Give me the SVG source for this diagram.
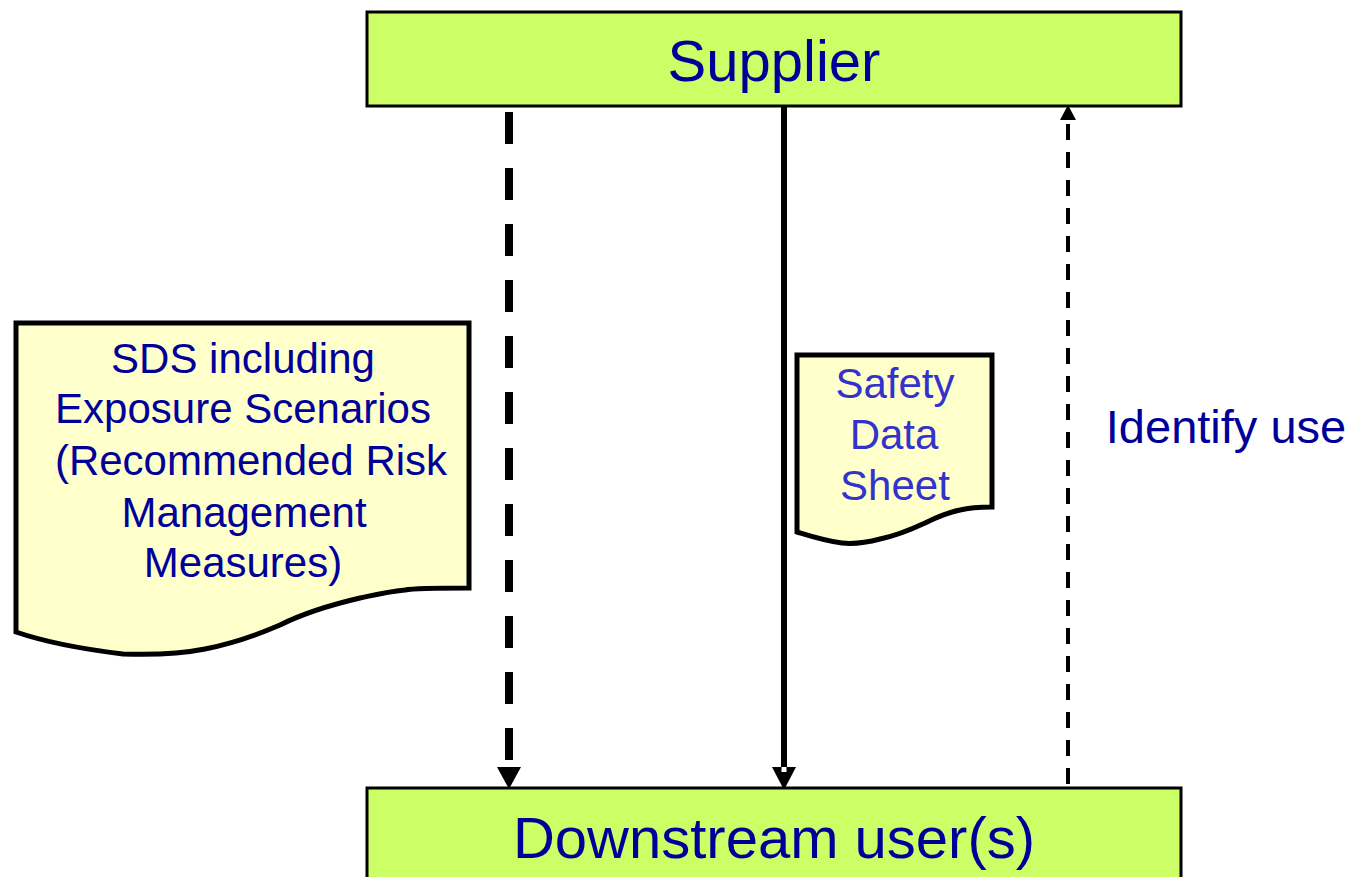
<svg xmlns="http://www.w3.org/2000/svg" width="1354" height="877" viewBox="0 0 1354 877">
  <style>
    .box { fill: #CCFF66; stroke: #000; stroke-width: 3; }
    .doc { fill: #FFFFCC; stroke: #000; stroke-width: 5; stroke-linejoin: miter; }
    .label { font-family: "Liberation Sans", Arial, sans-serif; text-anchor: middle; fill: #000099; }
    .big { font-size: 58px; }
    .mid { font-size: 42px; }
    .light { fill: #3333CC; }
    .line { fill: none; stroke: #000; }
    .head { fill: #000; }
  </style>

  <!-- connectors -->
  <g id="connectors">
    <!-- SDS with exposure scenarios: heavy dashed, downward -->
    <path class="line" d="M509 112 V767" stroke-width="8" stroke-dasharray="32 24"/>
    <polygon class="head" points="497,767 521,767 509,789"/>
    <!-- Safety data sheet: solid, downward -->
    <path class="line" d="M784 104 V768" stroke-width="6"/>
    <polygon class="head" points="772,767 796,767 784,790"/>
    <rect x="781.5" y="767" width="5" height="5" fill="#fff"/>
    <!-- identify use: light dashed, upward -->
    <path class="line" d="M1068 784 V119" stroke-width="4" stroke-dasharray="16 12"/>
    <polygon class="head" points="1060,120 1076,120 1068,105"/>
  </g>

  <g id="supplier">
    <rect class="box" x="367" y="12" width="814" height="94"/>
    <text class="label big" x="774" y="81">Supplier</text>
  </g>

  <g id="downstream">
    <rect class="box" x="367" y="788" width="814" height="100"/>
    <text class="label big" x="774" y="858">Downstream user(s)</text>
  </g>

  <g id="sds-exposure">
    <path class="doc" d="M16 323 H469 V588 C440 588 415 588 405 590 C385 592 370 596 360 598 C330 605 300 615 280 625 C250 638 225 645 205 649 C180 654 150 655 123 654 C90 650 45 642 16 632 Z"/>
    <text class="label mid" x="243" y="373">SDS including</text>
    <text class="label mid" x="243" y="423">Exposure Scenarios</text>
    <text class="label mid" x="251" y="475">(Recommended Risk</text>
    <text class="label mid" x="244" y="527">Management</text>
    <text class="label mid" x="243" y="577">Measures)</text>
  </g>

  <g id="sds">
    <path class="doc" d="M797 355 H992 V507 C980 507 968 508 960 510 C945 513 935 518 925 523 C910 530 895 536 880 539 C865 543 852 544 842 543 C825 541 810 536 797 532 Z"/>
    <text class="label mid light" x="895" y="398">Safety</text>
    <text class="label mid light" x="894" y="449">Data</text>
    <text class="label mid light" x="895" y="500">Sheet</text>
  </g>

  <g id="identify-use">
    <text class="label" x="1226" y="443" font-size="47">Identify use</text>
  </g>
</svg>
